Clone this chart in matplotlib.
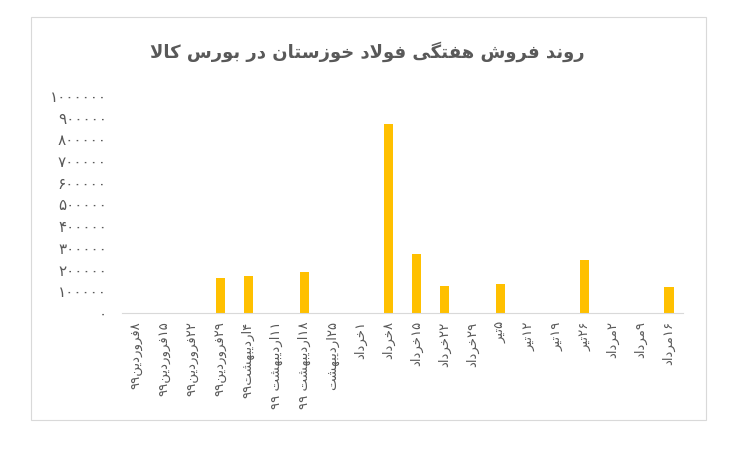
import matplotlib
matplotlib.use("Agg")
import matplotlib.pyplot as plt
from matplotlib.patches import Rectangle
import numpy as np

# weekly sales, Foolad Khuzestan on the commodity exchange
title = "روند فروش هفتگی فولاد خوزستان در بورس کالا"
weeks = ["۸فروردین۹۹", "۱۵فروردین۹۹", "۲۲فروردین۹۹", "۲۹فروردین۹۹",
         "۴اردیبهشت۹۹", "۱۱اردیبهشت ۹۹", "۱۸اردیبهشت ۹۹", "۲۵اردیبهشت",
         "۱خرداد", "۸خرداد", "۱۵خرداد", "۲۲خرداد", "۲۹خرداد",
         "۵تیر", "۱۲تیر", "۱۹تیر", "۲۶تیر",
         "۲مرداد", "۹مرداد", "۱۶مرداد"]
sales = [0, 0, 0, 160000, 169000, 0, 187000, 0,
         0, 873000, 273000, 123000, 0,
         133000, 0, 0, 242000,
         0, 0, 119000]
yticks = [0, 100000, 200000, 300000, 400000, 500000,
          600000, 700000, 800000, 900000, 1000000]

# ---- tiny arabic/persian shaper (matplotlib has no text shaping) ----
# letter: (isolated, final, initial, medial); None -> right-joining only
FORMS = {
    "ا": (0xFE8D, 0xFE8E, None, None),
    "ب": (0xFE8F, 0xFE90, 0xFE91, 0xFE92),
    "ت": (0xFE95, 0xFE96, 0xFE97, 0xFE98),
    "خ": (0xFEA5, 0xFEA6, 0xFEA7, 0xFEA8),
    "د": (0xFEA9, 0xFEAA, None, None),
    "ر": (0xFEAD, 0xFEAE, None, None),
    "ز": (0xFEAF, 0xFEB0, None, None),
    "س": (0xFEB1, 0xFEB2, 0xFEB3, 0xFEB4),
    "ش": (0xFEB5, 0xFEB6, 0xFEB7, 0xFEB8),
    "ف": (0xFED1, 0xFED2, 0xFED3, 0xFED4),
    "ل": (0xFEDD, 0xFEDE, 0xFEDF, 0xFEE0),
    "م": (0xFEE1, 0xFEE2, 0xFEE3, 0xFEE4),
    "ن": (0xFEE5, 0xFEE6, 0xFEE7, 0xFEE8),
    "ه": (0xFEE9, 0xFEEA, 0xFEEB, 0xFEEC),
    "و": (0xFEED, 0xFEEE, None, None),
    "ک": (0xFB8E, 0xFB8F, 0xFB90, 0xFB91),
    "گ": (0xFB92, 0xFB93, 0xFB94, 0xFB95),
    "ی": (0xFBFC, 0xFBFD, 0xFBFE, 0xFBFF),
}


def dual(c):
    return c in FORMS and FORMS[c][2] is not None


def shape(s):
    out = []
    i = 0
    while i < len(s):
        c = s[i]
        if c not in FORMS:
            out.append(c)
            i += 1
            continue
        prev_join = i > 0 and dual(s[i - 1])
        if c == "ل" and i + 1 < len(s) and s[i + 1] == "ا":
            out.append(chr(0xFEFC if prev_join else 0xFEFB))
            i += 2
            continue
        next_join = dual(c) and i + 1 < len(s) and s[i + 1] in FORMS
        f = FORMS[c]
        if prev_join and next_join:
            out.append(chr(f[3]))
        elif prev_join:
            out.append(chr(f[1]))
        elif next_join:
            out.append(chr(f[2]))
        else:
            out.append(chr(f[0]))
        i += 1
    return "".join(out)


def is_digit(c):
    return "\u06f0" <= c <= "\u06f9" or c.isdigit()


def rtl(s):
    # shape, then reorder: digit runs keep their order, the rest is reversed
    s = shape(s)
    runs = []
    for c in s:
        d = is_digit(c)
        if runs and runs[-1][0] == d:
            runs[-1][1].append(c)
        else:
            runs.append([d, [c]])
    parts = []
    for d, chars in reversed(runs):
        parts.append("".join(chars) if d else "".join(reversed(chars)))
    return "".join(parts)


def fa_num(n):
    return "".join(chr(0x06F0 + int(ch)) for ch in str(n))


plt.rcParams["font.family"] = ["DejaVu Sans"]
grey = "#595959"

fig = plt.figure(figsize=(7.46, 4.67), dpi=100)
fig.add_artist(Rectangle((31 / 746, 1 - 420 / 467), 675 / 746, 403 / 467,
                         fill=False, edgecolor="#d9d9d9", lw=0.8,
                         transform=fig.transFigure))

ax = fig.add_axes([122 / 746, 1 - 313 / 467, 561 / 746, 217 / 467])
x = np.arange(len(weeks))
ax.bar(x, sales, width=0.33, color="#FFC000")

ax.set_xlim(-0.5, len(weeks) - 0.5)
ax.set_ylim(0, 1000000)
ax.set_yticks(yticks)
ax.set_yticklabels([fa_num(v) for v in yticks], color=grey, fontsize=11)
ax.set_xticks(x)
ax.set_xticklabels([rtl(w) for w in weeks], rotation=90, color=grey,
                   fontsize=9.5)
ax.tick_params(axis="y", length=0, pad=11)
ax.tick_params(axis="x", length=0, pad=6)

for side in ["top", "right", "left"]:
    ax.spines[side].set_visible(False)
ax.spines["bottom"].set_color("#d9d9d9")

fig.text(0.493, 1 - 52 / 467, rtl(title), ha="center", va="center",
         fontsize=13, fontweight="bold", color=grey)

fig.savefig("out.png", dpi=100)
